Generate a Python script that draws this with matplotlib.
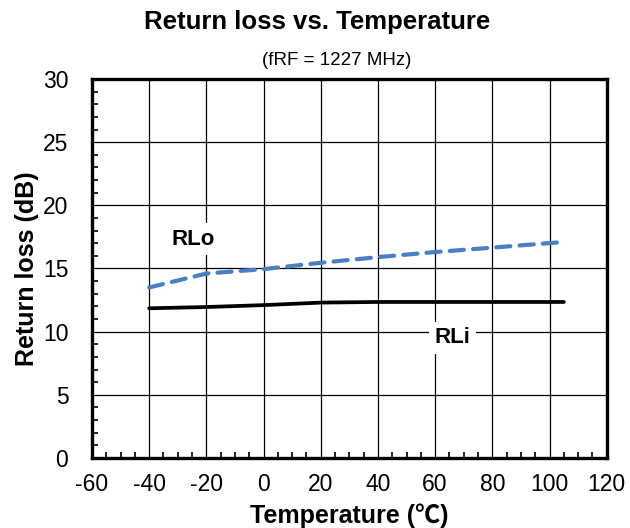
import matplotlib.pyplot as plt
import matplotlib.ticker as mticker

plt.rcParams['font.family'] = ['Liberation Sans', 'Noto Sans CJK JP', 'DejaVu Sans']
plt.rcParams['axes.unicode_minus'] = False

# --------------------------
# Data
# --------------------------
temps = [-40, -20, 0, 20, 40, 60, 80, 105]
rlo = [13.5, 14.6, 14.95, 15.45, 15.9, 16.3, 16.65, 17.1]
rli = [11.85, 11.95, 12.1, 12.3, 12.35, 12.35, 12.35, 12.35]

x_ticks = [-60, -40, -20, 0, 20, 40, 60, 80, 100, 120]
y_ticks = [0, 5, 10, 15, 20, 25, 30]

fig = plt.figure(figsize=(6.3, 5.28), dpi=100)
ax = fig.add_axes([0.146, 0.1326, 0.817, 0.7178])

ax.plot(temps, rli, color='black', lw=2.7, solid_capstyle='round')
ax.plot(temps, rlo, color='#4a7fc1', lw=3.0, dashes=(3.4, 2.2),
        dash_capstyle='round')

ax.set_xlim(-60, 120)
ax.set_ylim(0, 30)
ax.set_xticks(x_ticks)
ax.set_yticks(y_ticks)
ax.xaxis.set_minor_locator(mticker.MultipleLocator(5))
ax.yaxis.set_minor_locator(mticker.MultipleLocator(1))
ax.grid(True, which='major', color='black', lw=0.9)
ax.set_axisbelow(True)

ax.tick_params(which='major', length=0, labelsize=16.5)
ax.tick_params(axis='x', which='major', pad=11)
ax.tick_params(axis='y', which='major', pad=17)
ax.tick_params(which='minor', direction='in', length=4, width=1.2,
               top=False, right=False)
for s in ax.spines.values():
    s.set_linewidth(2.4)

ax.set_xlabel('Temperature (℃)', fontsize=18, fontweight='bold', labelpad=5)
ax.set_ylabel('Return loss (dB)', fontsize=18, fontweight='bold', labelpad=3)

box = dict(facecolor='white', edgecolor='none', pad=4)
ax.text(-24.5, 17.3, 'RLo', fontsize=16, fontweight='bold',
        ha='center', va='center', bbox=box)
ax.text(66, 9.5, 'RLi', fontsize=16, fontweight='bold',
        ha='center', va='center', bbox=box)

fig.text(0.503, 0.958, 'Return loss vs. Temperature', fontsize=18.5,
         fontweight='bold', ha='center', va='center')
fig.text(0.535, 0.886, '(fRF = 1227 MHz)', fontsize=13.5,
         ha='center', va='center')

fig.savefig('out.png', dpi=100)
